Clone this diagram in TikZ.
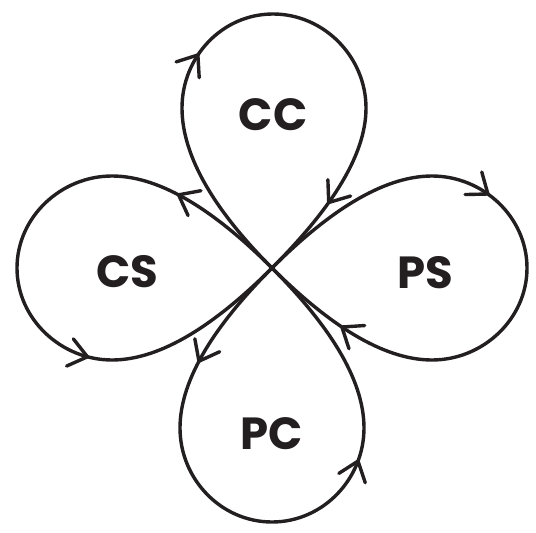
\documentclass[tikz,border=0pt]{standalone}
\usepackage{fontspec}
\setmainfont{Poppins}
\usetikzlibrary{arrows.meta,decorations.markings}
\definecolor{ink}{HTML}{231F20}
\begin{document}
\begin{tikzpicture}[x=1pt,y=-1pt,
  loopline/.style={line width=3.4pt, draw=ink, line join=round, line cap=round, postaction={decorate}},
  twoarrows/.style 2 args={decoration={markings,
     mark=at position #1 with {\arrow[ink,line width=3.4pt]{Straight Barb[length=18pt,width=28pt,round]}},
     mark=at position #2 with {\arrow[ink,line width=3.4pt]{Straight Barb[length=18pt,width=28pt,round]}}}},
  lbl/.style={font=\fontsize{45}{45}\selectfont\bfseries, text=ink, inner sep=0pt}]
\fill[white] (0,0) rectangle (536,533);
\useasboundingbox (0,0) rectangle (536,533);
\coordinate (T) at (272,268);
% CC loop (top)
\path[loopline, twoarrows={0.367}{0.873}]
  (T) .. controls (217,213) and (182,158) .. (182,108)
      .. controls (182,57) and (222,14) .. (273,14)
      .. controls (324,14) and (366,57) .. (366,108)
      .. controls (366,158) and (327,213) .. (T);
% CS loop (left)
\path[loopline, twoarrows={0.18}{0.684}]
  (T) .. controls (217,213) and (162,176) .. (112,176)
      .. controls (61,176) and (17,217) .. (17,268)
      .. controls (17,319) and (61,360) .. (112,360)
      .. controls (162,360) and (217,323) .. (T);
% PS loop (right)
\path[loopline, twoarrows={0.373}{0.866}]
  (T) .. controls (327,213) and (382,176) .. (432,176)
      .. controls (483,176) and (527,217) .. (527,268)
      .. controls (527,319) and (483,360) .. (432,360)
      .. controls (382,360) and (327,323) .. (T);
% PC loop (bottom)
\path[loopline, twoarrows={0.18}{0.67}]
  (T) .. controls (217,323) and (180,378) .. (180,428)
      .. controls (180,479) and (221,522) .. (272,522)
      .. controls (323,522) and (364,479) .. (364,428)
      .. controls (364,378) and (327,323) .. (T);
\node[lbl] (cc) at (273,115) {CC};
\node[lbl] (cs) at (127,272) {CS};
\node[lbl] (ps) at (425,273) {PS};
\node[lbl] (pc) at (272,434) {PC};
\end{tikzpicture}
\end{document}
